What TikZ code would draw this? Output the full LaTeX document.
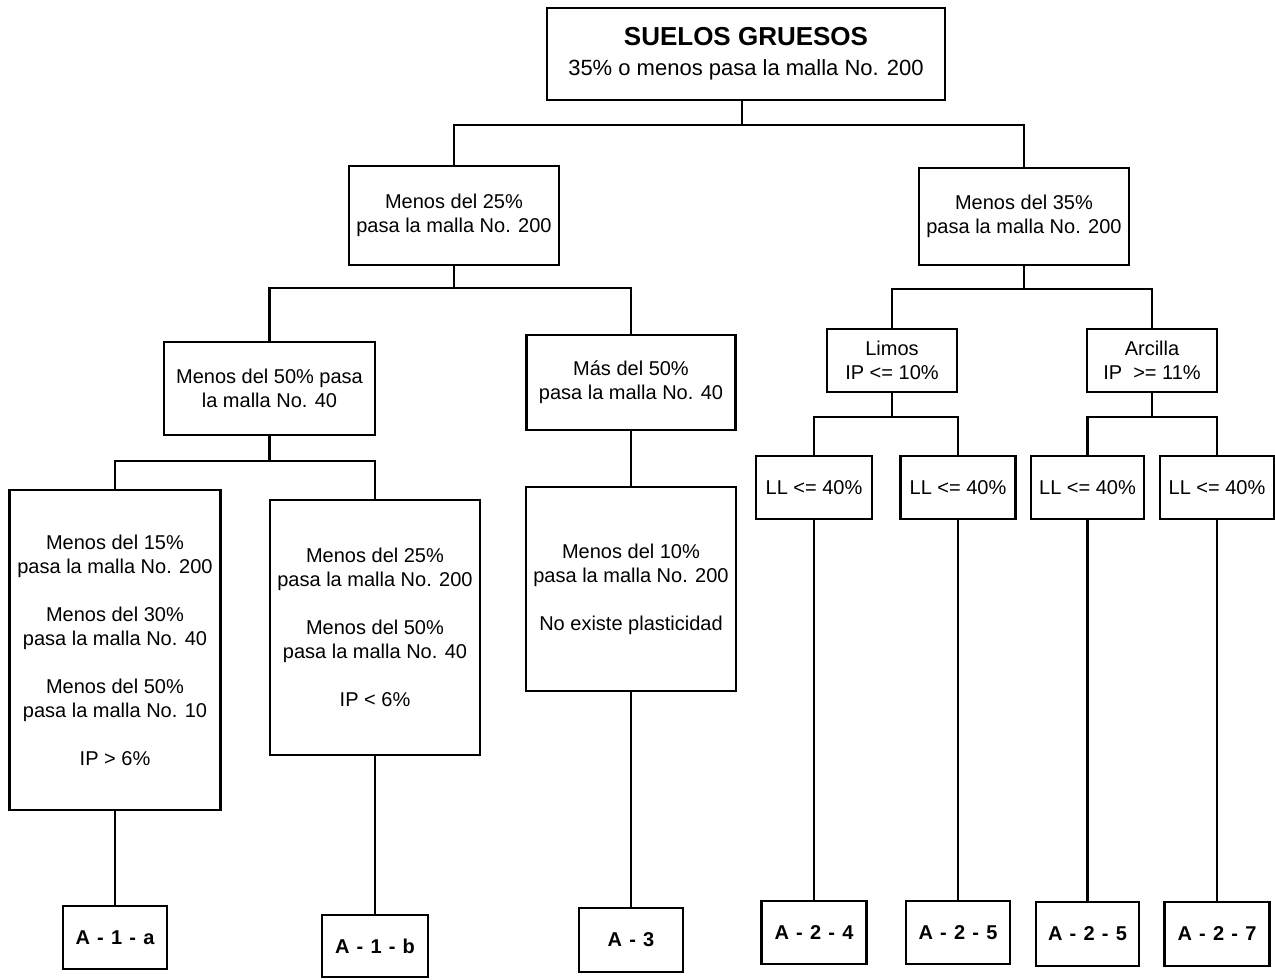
\documentclass[tikz,border=0pt]{standalone}
\usepackage{fontspec}
\setmainfont{Liberation Sans}
% bold label font with widened word spaces
\newcommand\groupfont{\fontsize{15}{17}\selectfont\bfseries\spaceskip=0.36em plus 0pt minus 0pt\relax}
\begin{document}
\begin{tikzpicture}[x=0.75pt,y=-0.75pt,
  every node/.style={font=\fontsize{15}{18}\selectfont},
  box/.style 2 args={draw, line width=1.6pt, inner sep=0pt, align=center,
    minimum width=#1*0.75pt, minimum height=#2*0.75pt},
  leaf/.style={font=\groupfont},
  link/.style={line width=1.6pt}]
\useasboundingbox (0,0) rectangle (1275,979);

% root
\node[box={398}{92}, font=\fontsize{16.5}{22.5}\selectfont] (top) at (746,54)
  {{\bfseries\fontsize{19.5}{22.5}\selectfont SUELOS GRUESOS}\\35\% o menos pasa la malla No. 200};

% second level
\node[box={210}{99}] (L1) at (454,215.5) {Menos del 25\%\\pasa la malla No. 200};
\node[box={210}{97}] (R1) at (1024,216.5) {Menos del 35\%\\pasa la malla No. 200};

% third level
\node[box={211}{93}] (L2a) at (269.5,388.5) {Menos del 50\% pasa\\la malla No. 40};
\node[box={209}{95}] (L2b) at (631,382.5) {Más del 50\%\\pasa la malla No. 40};
\node[box={130}{63}] (Lim) at (892,360.5) {Limos\\IP <= 10\%};
\node[box={130}{63}] (Arc) at (1152,360.5) {Arcilla\\IP \ >= 11\%};

% liquid limit boxes
\node[box={116}{63}] (LL1) at (814,487.5) {LL <= 40\%};
\node[box={115}{63}] (LL2) at (958,487.5) {LL <= 40\%};
\node[box={113}{63}] (LL3) at (1087.5,487.5) {LL <= 40\%};
\node[box={114}{63}] (LL4) at (1217,487.5) {LL <= 40\%};

% grading conditions
\node[box={211}{320}] (C1a) at (115,650)
  {Menos del 15\%\\pasa la malla No. 200\\[18pt]
   Menos del 30\%\\pasa la malla No. 40\\[18pt]
   Menos del 50\%\\pasa la malla No. 10\\[18pt]
   IP > 6\%};
\node[box={210}{255}] (C1b) at (375,627.5)
  {Menos del 25\%\\pasa la malla No. 200\\[18pt]
   Menos del 50\%\\pasa la malla No. 40\\[18pt]
   IP < 6\%};
\node[box={210}{204}] (C3) at (631,589)
  {Menos del 10\%\\pasa la malla No. 200\\[18pt]
   No existe plasticidad};

% resulting groups
\node[box={104}{63}, leaf] (A1a) at (115,937.5) {A - 1 - a};
\node[box={106}{62}, leaf] (A1b) at (375,946) {A - 1 - b};
\node[box={104}{64}, leaf] (A3) at (631,940) {A - 3};
\node[box={105}{63}, leaf] (A24) at (814,932.5) {A - 2 - 4};
\node[box={104}{63}, leaf] (A25) at (958,932.5) {A - 2 - 5};
\node[box={103}{64}, leaf] (A25b) at (1087.5,934) {A - 2 - 5};
\node[box={105}{64}, leaf] (A27) at (1217,934) {A - 2 - 7};

% junction points of the tree
\coordinate (j0) at (742,125);
\coordinate (j1) at (454,288);
\coordinate (j2) at (1024,289);
\coordinate (j3) at (892,417);
\coordinate (j4) at (1152,417);
\coordinate (j5) at (269.5,461);

\draw[link] (j0 |- top.south) -- (j0);
\draw[link] (L1.north) |- (j0) -| (R1.north);

\draw[link] (L1.south) -- (j1);
\draw[link] (L2a.north) |- (j1) -| (L2b.north);

\draw[link] (R1.south) -- (j2);
\draw[link] (Lim.north) |- (j2) -| (Arc.north);

\draw[link] (Lim.south) -- (j3);
\draw[link] (LL1.north) |- (j3) -| (LL2.north);

\draw[link] (Arc.south) -- (j4);
\draw[link] (LL3.north) |- (j4) -| (LL4.north);

\draw[link] (L2a.south) -- (j5);
\draw[link] (C1a.north) |- (j5) -| (C1b.north);

\draw[link] (L2b.south) -- (C3.north);

\draw[link] (C1a.south) -- (A1a.north);
\draw[link] (C1b.south) -- (A1b.north);
\draw[link] (C3.south) -- (A3.north);
\draw[link] (LL1.south) -- (A24.north);
\draw[link] (LL2.south) -- (A25.north);
\draw[link] (LL3.south) -- (A25b.north);
\draw[link] (LL4.south) -- (A27.north);
\end{tikzpicture}
\end{document}
